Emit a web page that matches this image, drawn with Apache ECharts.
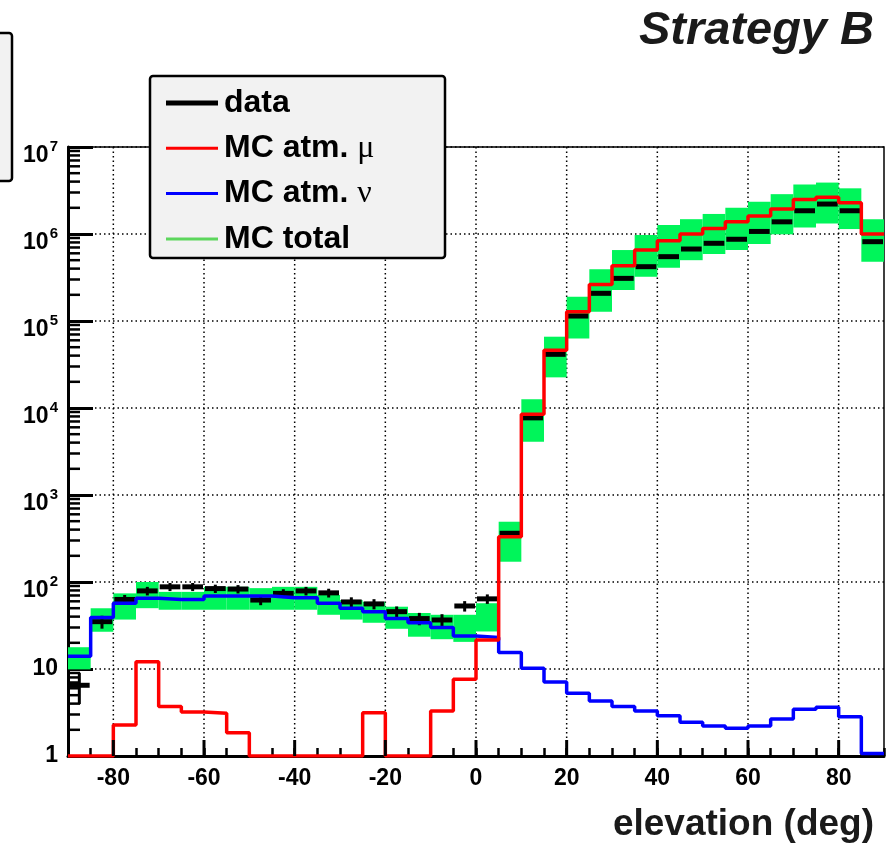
<!DOCTYPE html>
<html>
<head>
<meta charset="utf-8">
<title>Strategy B</title>
<script src="https://cdn.jsdelivr.net/npm/echarts@6/dist/echarts.min.js"></script>
<style>
  html, body { margin: 0; padding: 0; background: #fff; }
  #chart { width: 895px; height: 846px; }
</style>
</head>
<body>
<div id="chart"></div>
<script>
// lower edges of the 5 deg elevation bins
const binLow = [-90, -85, -80, -75, -70, -65, -60, -55, -50, -45, -40, -35,
  -30, -25, -20, -15, -10, -5, 0, 5, 10, 15, 20, 25,
  30, 35, 40, 45, 50, 55, 60, 65, 70, 75, 80, 85];
const binWidth = 5;

// measured events
const dataCounts = [6.5, 35, 63, 79, 88, 88, 84, 83, 62, 74, 79, 75,
  59, 56, 45.6, 38, 36.6, 53, 64, 363, 7700, 41400, 114000, 208000,
  309000, 421000, 549000, 672000, 782000, 870000, 1.07e6, 1.38e6, 1.85e6, 2.21e6, 1.85e6, 816000];

// MC atmospheric muons (0 = empty bin)
const mcMu = [0, 0, 2.27, 12.1, 3.7, 3.2, 3.1, 1.85, 0, 0, 0, 0,
  0, 3.15, 0, 0, 3.3, 7.6, 21.5, 331, 8500, 46000, 128000, 262000,
  432000, 654000, 835000, 1.0e6, 1.16e6, 1.38e6, 1.61e6, 1.94e6, 2.5e6, 2.64e6, 2.29e6, 1.0e6];

// MC atmospheric neutrinos
const mcNu = [14, 39, 57, 65, 63, 63, 69, 69, 69, 66, 66, 57,
  50, 45.6, 38, 34, 30, 24, 23, 15.5, 10.2, 7.1, 5.25, 4.3,
  3.7, 3.3, 2.9, 2.44, 2.21, 2.08, 2.21, 2.66, 3.44, 3.63, 2.83, 1.07];

// MC total uncertainty band (lower / upper edge)
const mcTotalLow = [9.9, 26.8, 37, 50, 48, 48, 48, 48, 48, 48, 48, 42,
  37, 34, 29, 23.5, 22, 20.5, 27, 171, 4100, 22500, 63000, 128000,
  227000, 323000, 410000, 500000, 589000, 655000, 767000, 992000, 1.19e6, 1.32e6, 1.14e6, 480000];
const mcTotalHigh = [17.8, 49.9, 74, 100, 77, 77, 88, 88, 85, 88, 88, 71,
  62, 59, 52, 44, 42, 42, 57, 493, 12600, 66000, 190000, 393000,
  654000, 976000, 1.27e6, 1.48e6, 1.70e6, 2.0e6, 2.35e6, 2.87e6, 3.7e6, 3.9e6, 3.35e6, 1.48e6];

// axis ticks
const xMajorTicks = [-80, -60, -40, -20, 0, 20, 40, 60, 80];
const yMin = 1, yMax = 1e7;

const font = "'Liberation Sans', Arial, sans-serif";
const green = "#00f55a";

const yMinorTicks = [];
for (let k = 0; k < 7; k++) {
  for (let m = 2; m <= 9; m++) yMinorTicks.push(m * Math.pow(10, k));
}

// histogram as a step line through the bin edges
function stepPoints(vals) {
  const pts = binLow.map((x, i) => [x, Math.max(vals[i], yMin)]);
  pts.push([binLow[binLow.length - 1] + binWidth, Math.max(vals[vals.length - 1], yMin)]);
  return pts;
}

const chart = echarts.init(document.getElementById("chart"));

const option = {
  animation: false,
  backgroundColor: "#fff",
  title: {
    text: "Strategy B",
    right: 16,
    top: 3,
    textStyle: { fontFamily: font, fontWeight: "bold", fontStyle: "italic", fontSize: 47, color: "#1a1a1a" }
  },
  grid: {
    left: 68, right: 11, top: 147, bottom: 90,
    show: true, borderColor: "#000", borderWidth: 1.5, backgroundColor: "#fff"
  },
  legend: {
    orient: "vertical",
    left: 161,
    top: 82,
    z: 20,
    selectedMode: false,
    itemWidth: 52,
    itemHeight: 32,
    itemGap: 13.3,
    data: [
      { name: "data", icon: "path://M0,0H52V5H0Z", itemStyle: { color: "#000" } },
      { name: "MC atm. μ", icon: "path://M0,0H52V3H0Z", itemStyle: { color: "#ff0000" } },
      { name: "MC atm. ν", icon: "path://M0,0H52V3H0Z", itemStyle: { color: "#0000ff" } },
      { name: "MC total", icon: "path://M0,0H52V3H0Z", itemStyle: { color: "#5cd65c" } }
    ],
    formatter: name => name.replace("μ", "{g|μ}").replace("ν", "{g|ν}"),
    textStyle: {
      fontFamily: font, fontWeight: "bold", fontSize: 32, color: "#000",
      lineHeight: 32, padding: [0, 0, 0, 1],
      rich: {
        g: { fontFamily: "'Liberation Serif', 'DejaVu Serif', serif", fontWeight: "normal", fontSize: 32, lineHeight: 32, color: "#000" }
      }
    }
  },
  graphic: [
    {
      type: "rect", z: 15,
      shape: { x: -20, y: 33, width: 32, height: 148, r: 3 },
      style: { fill: "#f2f2f2", stroke: "#000", lineWidth: 2.5 }
    },
    {
      type: "rect", z: 15,
      shape: { x: 150, y: 76, width: 295, height: 182, r: 3 },
      style: { fill: "#f2f2f2", stroke: "#000", lineWidth: 2.5 }
    }
  ],
  xAxis: {
    type: "value",
    min: -90,
    max: 90,
    interval: 5,
    name: "elevation (deg)",
    nameLocation: "end",
    nameGap: -10,
    nameTextStyle: {
      fontFamily: font, fontWeight: "bold", fontSize: 37, color: "#1a1a1a",
      align: "right", verticalAlign: "top", padding: [50, 0, 0, 0]
    },
    axisLine: { show: true, onZero: false, lineStyle: { color: "#000", width: 3 } },
    axisTick: { show: true, inside: true, length: 8, lineStyle: { color: "#000", width: 2.5 } },
    axisLabel: {
      formatter: v => (v % 20 === 0 ? String(v) : ""),
      color: "#000", fontFamily: font, fontWeight: "bold", fontSize: 23, margin: 11
    },
    splitLine: { show: false }
  },
  yAxis: {
    type: "log",
    logBase: 10,
    min: yMin,
    max: yMax,
    splitNumber: 7,
    axisLine: { show: true, onZero: false, lineStyle: { color: "#000", width: 3 } },
    axisTick: { show: true, inside: true, length: 25, lineStyle: { color: "#000", width: 3 } },
    axisLabel: {
      margin: 10,
      formatter: v => {
        if (v < 5) return "{c|1}";
        if (v < 50) return "{c|10}";
        return "{b|10}{e|" + Math.round(Math.log10(v)) + "}";
      },
      rich: {
        c: { fontFamily: font, fontWeight: "bold", fontSize: 23, color: "#000", lineHeight: 26 },
        b: { fontFamily: font, fontWeight: "bold", fontSize: 23, color: "#000", lineHeight: 26, padding: [18, 0, 0, 0] },
        e: { fontFamily: font, fontWeight: "bold", fontSize: 15, color: "#000", lineHeight: 17, padding: [0, 0, 0, 1] }
      }
    },
    splitLine: { show: true, lineStyle: { color: "#000", width: 1.5, type: [1.5, 3] } }
  },
  series: [
    {
      // vertical dotted grid at the labelled x ticks
      type: "custom",
      silent: true,
      z: 1,
      data: xMajorTicks.map(v => [v]),
      renderItem(params, api) {
        const a = api.coord([api.value(0), yMin]);
        const b = api.coord([api.value(0), yMax]);
        return {
          type: "line",
          shape: { x1: a[0], y1: a[1], x2: b[0], y2: b[1] },
          style: { stroke: "#000", lineWidth: 1.5, lineDash: [1.5, 3] }
        };
      }
    },
    {
      name: "MC total",
      type: "custom",
      z: 2,
      data: binLow.map((x, i) => [x, x + binWidth, mcTotalLow[i], mcTotalHigh[i]]),
      encode: { x: [0, 1], y: [2, 3] },
      renderItem(params, api) {
        const p0 = api.coord([api.value(0), api.value(3)]);
        const p1 = api.coord([api.value(1), api.value(2)]);
        return {
          type: "rect",
          shape: { x: p0[0], y: p0[1], width: p1[0] - p0[0], height: p1[1] - p0[1] },
          style: { fill: green }
        };
      }
    },
    {
      name: "data",
      type: "custom",
      z: 3,
      data: binLow.map((x, i) => [x, x + binWidth, dataCounts[i], Math.sqrt(dataCounts[i])]),
      encode: { x: [0, 1], y: 2 },
      renderItem(params, api) {
        const x0 = api.value(0), x1 = api.value(1), v = api.value(2), err = api.value(3);
        const xc = (x0 + x1) / 2;
        const l = api.coord([x0, v]);
        const r = api.coord([x1, v]);
        const t = api.coord([xc, v + err]);
        const b = api.coord([xc, Math.max(v - err, yMin)]);
        return {
          type: "group",
          children: [
            { type: "line", shape: { x1: l[0] + 1, y1: l[1], x2: r[0] - 1, y2: r[1] }, style: { stroke: "#000", lineWidth: 5 } },
            { type: "line", shape: { x1: t[0], y1: t[1], x2: b[0], y2: b[1] }, style: { stroke: "#000", lineWidth: 3 } }
          ]
        };
      }
    },
    {
      name: "MC atm. ν",
      type: "line",
      step: "end",
      z: 4,
      showSymbol: false,
      data: stepPoints(mcNu),
      lineStyle: { color: "#0000ff", width: 3.5 },
      itemStyle: { color: "#0000ff" }
    },
    {
      name: "MC atm. μ",
      type: "line",
      step: "end",
      z: 5,
      showSymbol: false,
      data: stepPoints(mcMu),
      lineStyle: { color: "#ff0000", width: 3.5 },
      itemStyle: { color: "#ff0000" }
    },
    {
      // long ticks at the labelled x values
      type: "custom",
      silent: true,
      z: 6,
      data: xMajorTicks.map(v => [v]),
      renderItem(params, api) {
        const a = api.coord([api.value(0), yMin]);
        return {
          type: "line",
          shape: { x1: a[0], y1: a[1], x2: a[0], y2: a[1] - 16 },
          style: { stroke: "#000", lineWidth: 3 }
        };
      }
    },
    {
      // log minor ticks 2..9 on the y axis
      type: "custom",
      silent: true,
      z: 6,
      data: yMinorTicks.map(v => [v]),
      renderItem(params, api) {
        const a = api.coord([-90, api.value(0)]);
        return {
          type: "line",
          shape: { x1: a[0], y1: a[1], x2: a[0] + 12, y2: a[1] },
          style: { stroke: "#000", lineWidth: 2.5 }
        };
      },
      encode: { y: 0 }
    }
  ]
};

chart.setOption(option);
</script>
</body>
</html>
